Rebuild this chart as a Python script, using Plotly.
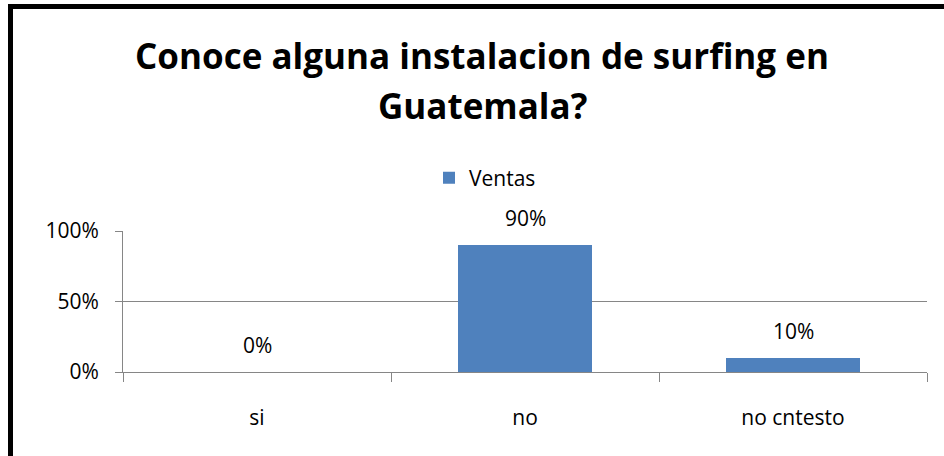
import plotly.graph_objects as go

categories = ["si", "no", "no cntesto"]
values = [0, 90, 10]
value_labels = ["0%", "90%", "10%"]
series_name = "Ventas"
tick_vals = [0, 50, 100]
tick_text = ["0%", "50%", "100%"]
title_lines = ["Conoce alguna instalacion de surfing en", "Guatemala?"]

FONT = "Open Sans"
BAR = "#4F81BD"
GRID = "#868686"
TXT = "#000000"

W, H = 944, 456
L, R, T, B = 123, 17, 231, 84
pw, ph = W - L - R, H - T - B


def px_x(p):
    return (p - L) / pw


def px_y(p):
    return (H - B - p) / ph


fig = go.Figure()
fig.add_trace(go.Bar(
    x=categories, y=values, name=series_name,
    marker=dict(color=BAR, line=dict(width=0)),
    showlegend=True,
))

annotations = []
for c, v, t in zip(categories, values, value_labels):
    annotations.append(dict(
        x=c, y=v, xref="x", yref="y", text=t, showarrow=False,
        yanchor="bottom", yshift=11,
        font=dict(family=FONT, size=21, color=TXT),
    ))

for line, cy in zip(title_lines, [55, 106]):
    annotations.append(dict(
        x=px_x(482), y=px_y(cy), xref="paper", yref="paper",
        text="<b>" + line + "</b>", showarrow=False,
        xanchor="center", yanchor="middle",
        font=dict(family=FONT, size=35, color=TXT),
    ))

shapes = [
    dict(type="line", xref="paper", yref="paper",
         x0=px_x(8), x1=px_x(944), y0=px_y(6.5), y1=px_y(6.5),
         line=dict(color="#000000", width=5)),
    dict(type="line", xref="paper", yref="paper",
         x0=px_x(10.5), x1=px_x(10.5), y0=px_y(4), y1=px_y(460),
         line=dict(color="#000000", width=5)),
]

fig.update_layout(
    width=W, height=H, autosize=False,
    margin=dict(l=L, r=R, t=T, b=B, pad=0),
    paper_bgcolor="white", plot_bgcolor="white",
    bargap=0.5,
    font=dict(family=FONT, size=21, color=TXT),
    legend=dict(orientation="h", x=px_x(485), xanchor="center",
                y=px_y(178), yanchor="middle",
                font=dict(family=FONT, size=21, color=TXT),
                itemwidth=30),
    annotations=annotations,
    shapes=shapes,
    xaxis=dict(
        type="category", showgrid=False, zeroline=False,
        showline=True, linecolor=GRID, linewidth=1,
        ticks="outside", tickson="boundaries", ticklen=9, tickcolor=GRID,
        tickfont=dict(family=FONT, size=21, color=TXT),
        ticklabelstandoff=27,
    ),
    yaxis=dict(
        range=[0, 100], tickvals=tick_vals, ticktext=tick_text,
        showgrid=True, gridcolor=GRID, gridwidth=1, zeroline=False,
        showline=True, linecolor=GRID, linewidth=1,
        ticks="outside", ticklen=7, tickcolor=GRID,
        tickfont=dict(family=FONT, size=21, color=TXT),
        ticklabelstandoff=12,
    ),
)

fig.write_html(
    "out.html",
    config={"displayModeBar": False},
    post_script="document.body.style.margin='0';document.body.style.overflow='hidden';",
)
